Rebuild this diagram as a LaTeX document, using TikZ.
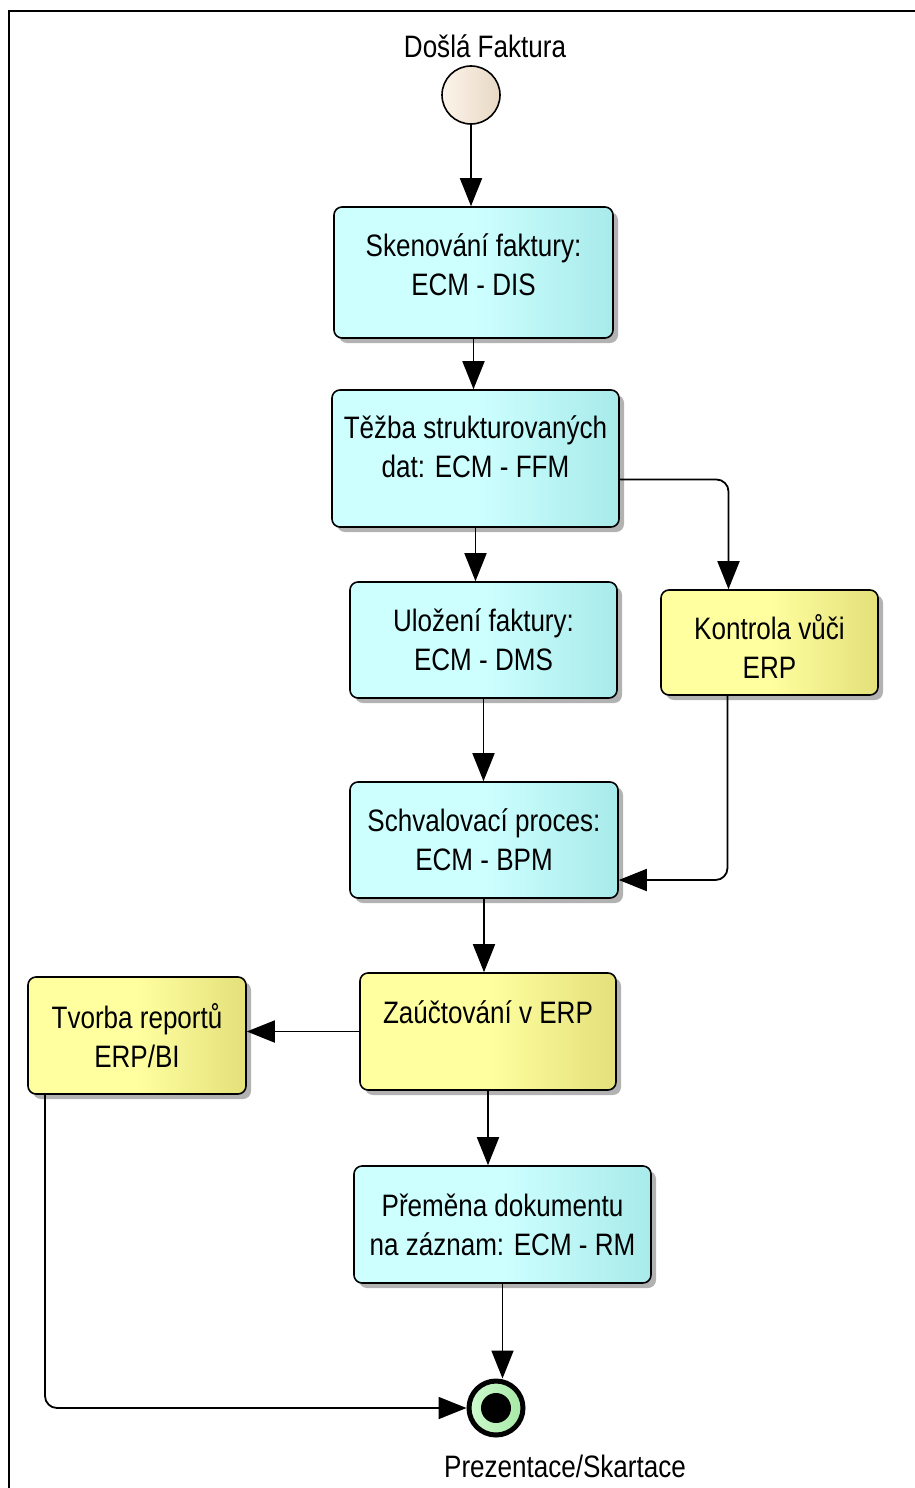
\documentclass[tikz,border=0pt]{standalone}
\usepackage{fontspec}
\setmainfont{Liberation Sans}[FakeStretch=0.84]
\usepackage{tikz}
\usetikzlibrary{arrows.meta,shadows}
\definecolor{ecmlight}{RGB}{206,255,255}
\definecolor{ecmdark}{RGB}{168,234,234}
\definecolor{erplight}{RGB}{255,255,160}
\definecolor{erpdark}{RGB}{228,224,122}
\definecolor{startlight}{RGB}{252,244,234}
\definecolor{startdark}{RGB}{232,216,196}
\definecolor{endlight}{RGB}{206,250,206}
\definecolor{enddark}{RGB}{166,232,166}
\tikzset{
  task/.style={draw, line width=1.6pt, rounded corners=8pt, align=center, inner sep=0pt,
    drop shadow={shadow xshift=5pt, shadow yshift=-5pt, fill=black, opacity=0.3}},
  ecm/.style={task, left color=ecmlight, right color=ecmdark, middle color=ecmlight},
  erp/.style={task, left color=erplight, right color=erpdark, middle color=erplight},
  flow/.style={-{Triangle[length=28pt,width=22pt]}, line width=1.8pt, rounded corners=12pt}
}

\begin{document}
\begin{tikzpicture}[x=1pt, y=-1pt, font=\fontsize{31}{39}\selectfont]
			\useasboundingbox (0,0) rectangle (915,1488);
			\draw [line width=2pt] (9,1488) -- (9,11) -- (915,11);
			\node[circle, draw, line width=1.6pt, minimum size=58pt, left color=startlight, right color=startdark] (start) at (471,95) {};
			\node (startlbl) at (485,46) {Došlá Faktura};
			\node[ecm, minimum width=279pt, minimum height=131pt] (box1) at (473.5,272.5)
			{Skenování faktury:\\ECM - DIS\rule[-16pt]{0pt}{0pt}};
			\node[ecm, minimum width=287pt, minimum height=137pt] (box2) at (475.5,458.5)
			{Těžba strukturovaných\\dat: ECM - FFM\rule[-23pt]{0pt}{0pt}};
			\node[ecm, minimum width=267pt, minimum height=116pt] (box3) at (483.5,640)
			{Uložení faktury:\\ECM - DMS};
			\node[erp, minimum width=217pt, minimum height=105pt] (box4) at (769.5,642.5)
			{\rule{0pt}{32pt}Kontrola vůči\\ERP};
			\node[ecm, minimum width=268pt, minimum height=116pt] (box5) at (484,840)
			{Schvalovací proces:\\ECM - BPM};
			\node[erp, minimum width=256pt, minimum height=117pt] (box6) at (488,1031.5)
			{Zaúčtování v ERP\\\mbox{}};
			\node[erp, minimum width=218pt, minimum height=117pt] (box7) at (137,1035.5)
			{Tvorba reportů\\ERP/BI};
			\node[ecm, minimum width=297pt, minimum height=117pt] (box8) at (502.5,1224.5)
			{Přeměna dokumentu\\na záznam: ECM - RM};
			\node[circle, draw, line width=5pt, minimum size=54pt, left color=endlight, right color=enddark,
			path picture={\fill (path picture bounding box.center) circle (15pt);}] (end) at (496,1408) {};
			\node (endlbl) at (565,1466) {Prezentace/Skartace};
			\foreach \a/\b in {start/box1, box1/box2, box2/box3, box3/box5, box5/box6, box6/box8, box8/end}
			\draw[flow] (\a.south) -- (\a.south |- \b.north);
			\draw[flow] ([yshift=-21pt]box2.east) -| ([xshift=-41pt]box4.north);
			\draw[flow] ([xshift=-42pt]box4.south) |- ([yshift=-40pt]box5.east);
			\draw[flow] (box6.west) -- (box6.west -| box7.east);
			\draw[flow] ([xshift=-92pt]box7.south) |- (end.west);
		\end{tikzpicture}
\end{document}
